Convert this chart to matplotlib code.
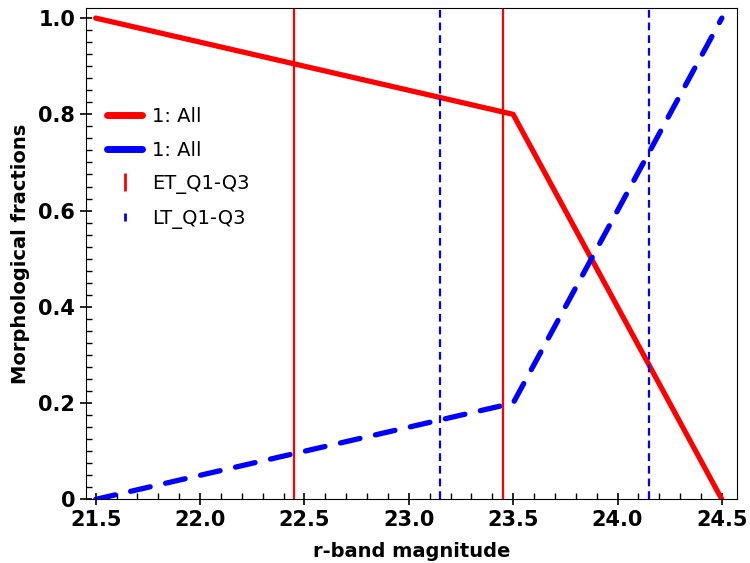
import matplotlib
matplotlib.use("Agg")
import matplotlib.pyplot as plt
from matplotlib.lines import Line2D
from matplotlib.ticker import MultipleLocator, FuncFormatter

# morphological fractions vs r-band magnitude
mag          = [21.5, 23.5, 24.5]
frac_et      = [1.0, 0.8, 0.0]
frac_lt      = [0.0, 0.2, 1.0]
et_quartiles = [22.45, 23.45]   # ET Q1-Q3
lt_quartiles = [23.15, 24.15]   # LT Q1-Q3

plt.rcParams['font.family'] = 'DejaVu Sans'

fig = plt.figure(figsize=(7.5, 5.63), dpi=100)
ax = fig.add_axes([0.115, 0.113, 0.867, 0.872])

ax.plot(mag, frac_et, color='red', lw=3.8, solid_capstyle='round')
ax.plot(mag, frac_lt, color='blue', lw=3.8, dashes=(3.8, 3.0), dash_capstyle='round')
for q in et_quartiles:
    ax.axvline(q, color='red', lw=1.6)
for q in lt_quartiles:
    ax.axvline(q, color='blue', lw=1.6, ls=(0, (3.5, 2.2)))

ax.set_xlim(21.455, 24.57)
ax.set_ylim(0, 1.02)
ax.xaxis.set_major_locator(MultipleLocator(0.5))
ax.xaxis.set_minor_locator(MultipleLocator(0.1))
ax.yaxis.set_major_locator(MultipleLocator(0.2))
ax.yaxis.set_minor_locator(MultipleLocator(0.025))
ax.yaxis.set_major_formatter(FuncFormatter(lambda v, p: '0' if abs(v) < 1e-9 else f'{v:.1f}'))
ax.tick_params(which='major', direction='inout', length=8, width=1.2, labelsize=15, pad=4)
ax.tick_params(which='minor', direction='in', length=4, width=1.0)
for lab in ax.get_xticklabels() + ax.get_yticklabels():
    lab.set_fontweight('bold')

ax.set_xlabel('r-band magnitude', fontsize=14, fontweight='bold', labelpad=8)
ax.set_ylabel('Morphological fractions', fontsize=14, fontweight='bold', labelpad=6)

handles = [
    Line2D([], [], color='red', lw=5, solid_capstyle='round'),
    Line2D([], [], color='blue', lw=5, solid_capstyle='round'),
    Line2D([], [], color='red', ls='none', marker='|', markersize=13, markeredgewidth=2),
    Line2D([], [], color='blue', ls='none', marker='|', markersize=6, markeredgewidth=2),
]
ax.legend(handles, ['1: All', '1: All', 'ET_Q1-Q3', 'LT_Q1-Q3'],
          loc='upper left', bbox_to_anchor=(0.005, 0.835), frameon=False,
          fontsize=14, handlelength=1.8, handletextpad=0.5, labelspacing=0.75)

fig.savefig('out.png', dpi=100)
